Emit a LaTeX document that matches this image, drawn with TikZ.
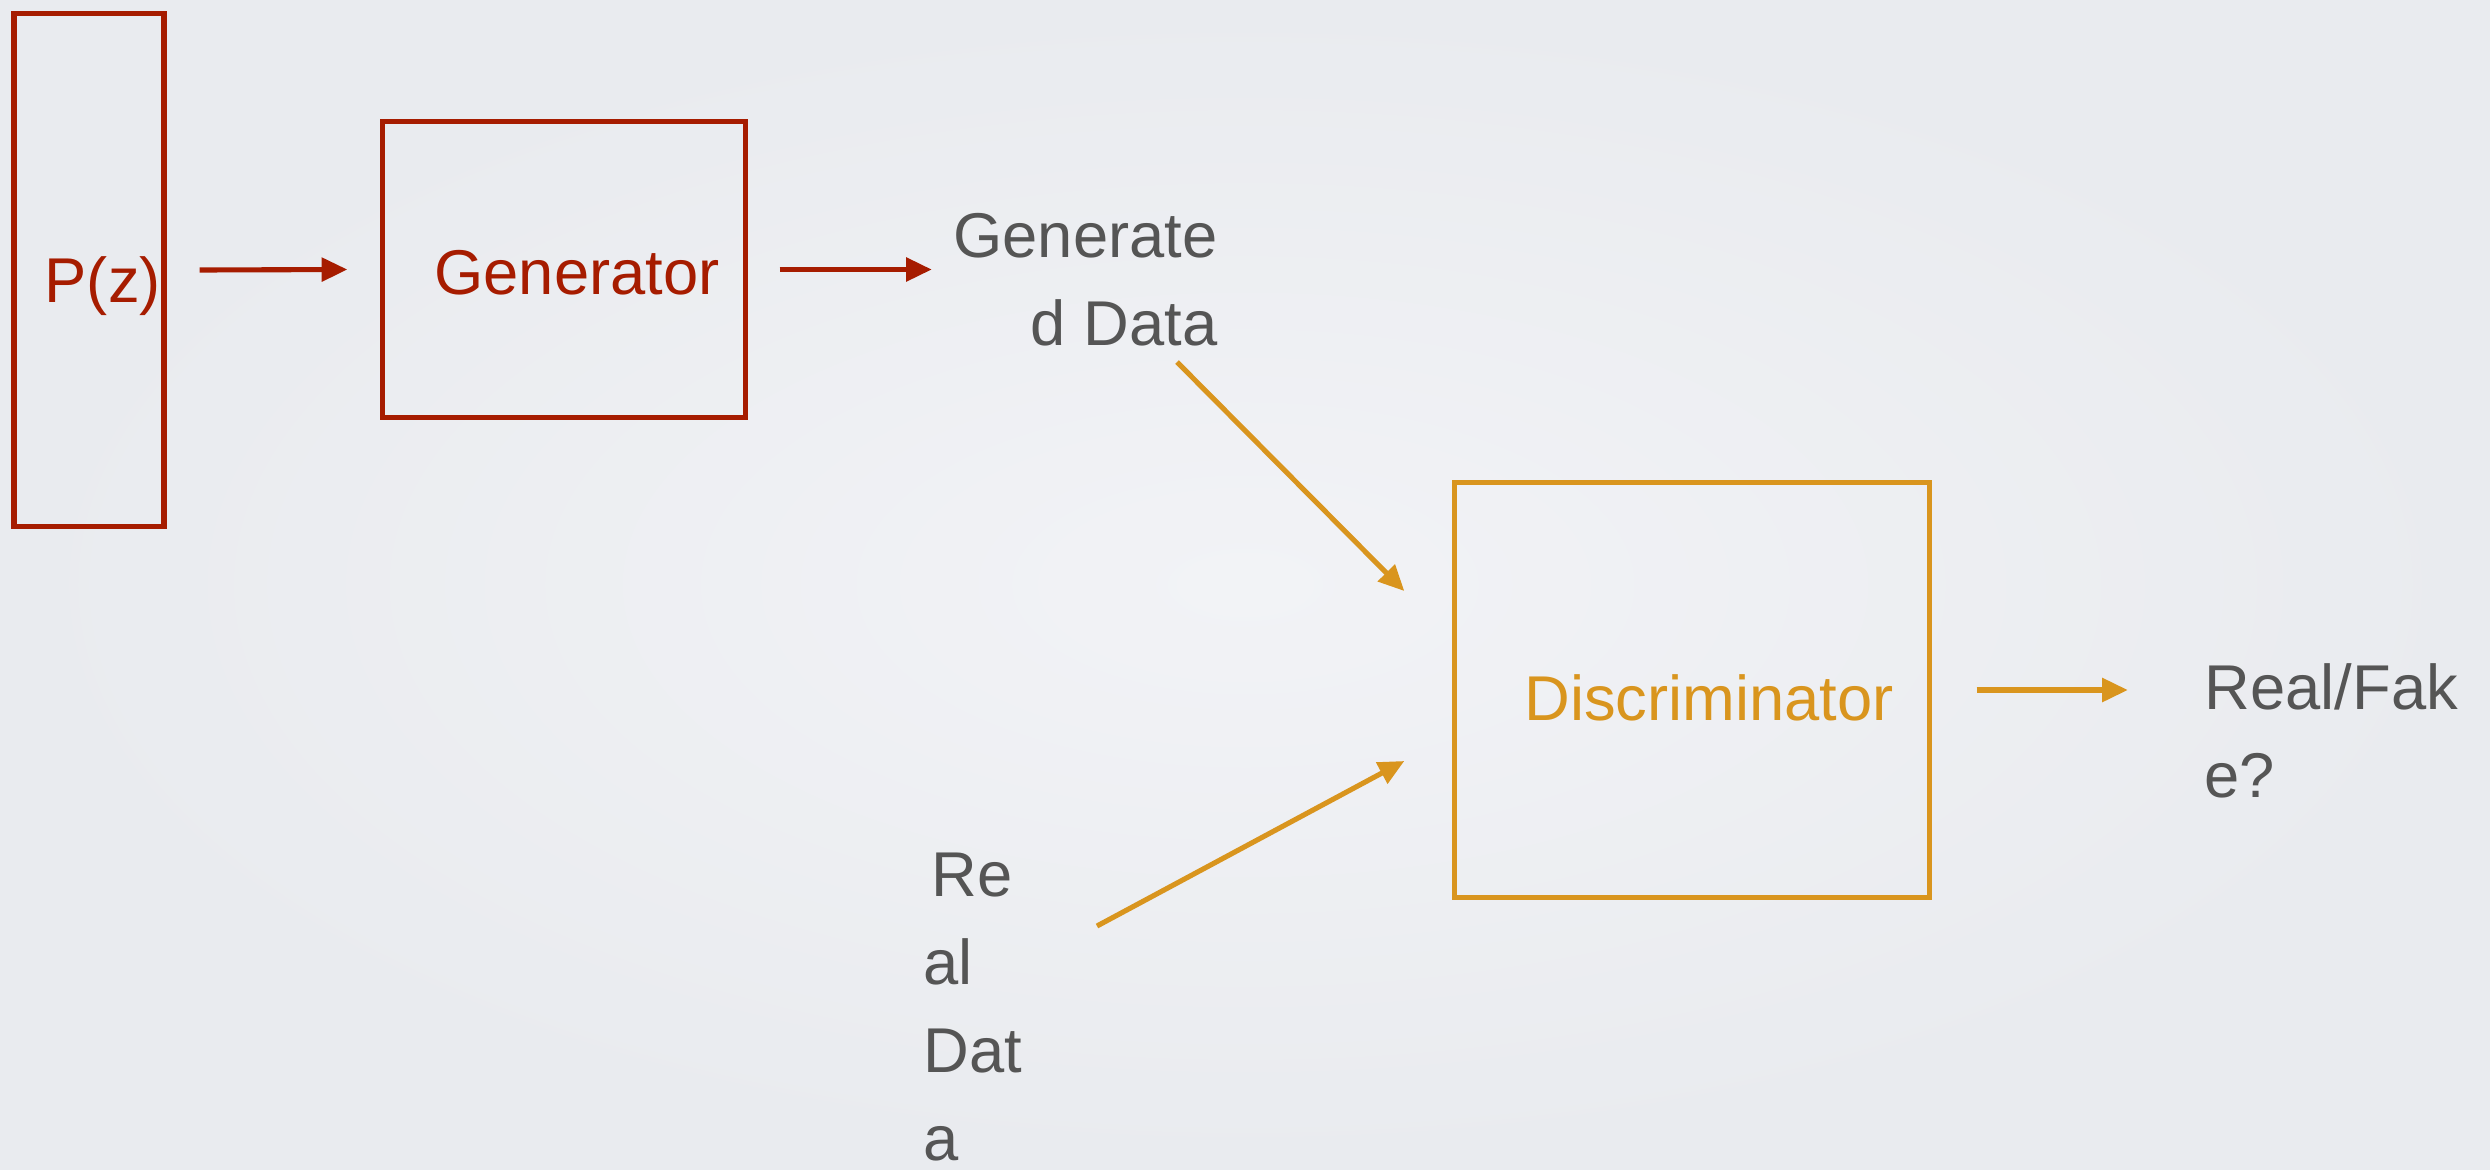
\documentclass[tikz,border=0pt]{standalone}
\usepackage{fontspec}
\setmainfont{Liberation Sans}
\usetikzlibrary{arrows.meta,calc}
\definecolor{gred}{HTML}{A61C00}
\definecolor{gorange}{HTML}{D9951E}
\definecolor{ggray}{HTML}{555555}
\definecolor{bgin}{HTML}{F2F3F6}
\definecolor{bgout}{HTML}{E9EBEF}
\begin{document}
\begin{tikzpicture}[x=0.01cm,y=-0.01cm,
  boxstyle/.style={draw, line width=1.45pt, inner sep=0pt, fill=none},
  lbl/.style={inner sep=0pt, font=\fontsize{18}{25}\selectfont},
  redarrow/.style={draw=gred, line width=1.45pt, -{Triangle[length=7.3pt,width=6.6pt]}, gred},
  orarrow/.style={draw=gorange, line width=1.45pt, -{Triangle[length=7.3pt,width=6.6pt]}, gorange}
]
\useasboundingbox (0,0) rectangle (2490,1169);
\shade[inner color=bgin, outer color=bgout] (0,0) rectangle (2490,1169);

% boxes
\node[boxstyle, draw=gred, minimum width=1.5cm, minimum height=5.12cm] (pz) at (89,270) {};
\node[boxstyle, draw=gred, minimum width=3.62cm, minimum height=2.95cm] (gen) at (564,269.5) {};
\node[boxstyle, draw=gorange, minimum width=4.74cm, minimum height=4.14cm] (disc) at (1692,690) {};

% texts
\node[lbl, text=gred, anchor=base west] (pztxt) at (44,302) {P(z)};
\node[lbl, text=gred, anchor=base] (gentxt) at (577,294) {Generator};
\node[lbl, text=gorange, anchor=base] (disctxt) at (1709,720) {Discriminator};
\node[lbl, text=ggray, align=right, anchor=base east] (gd) at (1218,345) {Generate\\d Data};
\node[lbl, text=ggray, align=left, anchor=base west] (rf) at (2204,797) {Real/Fak\\e?};
\node[lbl, text=ggray, align=left, anchor=base west] (rd) at (923,1160) {\hspace*{2.3pt}Re\\al\\Dat\\a};

% free ends
\coordinate (gdout) at (1177,362);
\coordinate (rdout) at (1097,926);

% connectors
\draw[redarrow] ([xshift=0.33cm]pz.east) -- ([xshift=-0.33cm]gen.west);
\draw[redarrow] ([xshift=0.32cm]gen.east) -- ([xshift=1.84cm]gen.east);
\draw[orarrow] (gdout) -- ($(disc.west)+(-48,-99)$);
\draw[orarrow] (rdout) -- ($(disc.west)+(-48,71)$);
\draw[orarrow] ([xshift=0.45cm]disc.east) -- ([xshift=1.96cm]disc.east);
\end{tikzpicture}
\end{document}
